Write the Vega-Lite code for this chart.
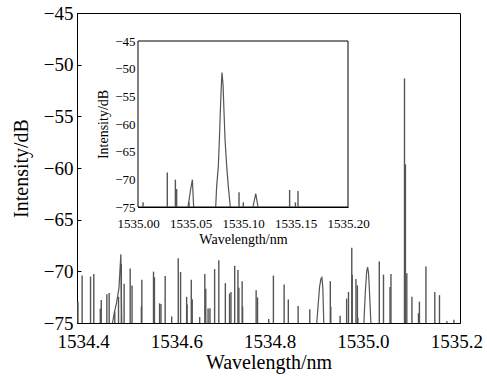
{
  "$schema": "https://vega.github.io/schema/vega-lite/v6.json",
  "width": 383,
  "height": 310,
  "autosize": {"type": "none"},
  "padding": {"left": 77, "top": 13, "right": 27, "bottom": 53},
  "background": "white",
  "config": {
    "font": "Liberation Serif",
    "view": {"stroke": "black", "strokeWidth": 1},
    "axis": {"grid": false, "labelFont": "Liberation Serif", "titleFont": "Liberation Serif", "domainColor": "black", "labelColor": "black", "titleColor": "black", "titleFontWeight": "normal", "tickColor": "black", "labelFlush": false, "labelOverlap": false},
    "axisQuantitative": {"labelFont": "Liberation Serif"}
  },
  "datasets": {
    "main_spikes": [
      {"w": 1534.389, "p": -72.94}, {"w": 1534.398, "p": -70.41}, {"w": 1534.416, "p": -70.51}, {"w": 1534.423, "p": -70.25},
      {"w": 1534.437, "p": -73.6}, {"w": 1534.439, "p": -72.78}, {"w": 1534.451, "p": -72.22}, {"w": 1534.456, "p": -72.09},
      {"w": 1534.468, "p": -73.89}, {"w": 1534.476, "p": -72.47}, {"w": 1534.482, "p": -69.3}, {"w": 1534.488, "p": -71.2},
      {"w": 1534.501, "p": -69.72}, {"w": 1534.505, "p": -71.36}, {"w": 1534.525, "p": -73.4}, {"w": 1534.526, "p": -70.82},
      {"w": 1534.551, "p": -70.03}, {"w": 1534.553, "p": -70.57}, {"w": 1534.564, "p": -73.1}, {"w": 1534.567, "p": -73.16},
      {"w": 1534.576, "p": -70.44}, {"w": 1534.59, "p": -74.37}, {"w": 1534.604, "p": -68.73}, {"w": 1534.609, "p": -70.06},
      {"w": 1534.622, "p": -72.47}, {"w": 1534.623, "p": -73.2}, {"w": 1534.632, "p": -70.82}, {"w": 1534.634, "p": -72.7},
      {"w": 1534.65, "p": -74.43}, {"w": 1534.661, "p": -70.25}, {"w": 1534.663, "p": -71.68}, {"w": 1534.668, "p": -73.6},
      {"w": 1534.672, "p": -73.58}, {"w": 1534.682, "p": -69.78}, {"w": 1534.691, "p": -68.92}, {"w": 1534.705, "p": -71.14},
      {"w": 1534.714, "p": -72.15}, {"w": 1534.717, "p": -71.99}, {"w": 1534.725, "p": -69.46}, {"w": 1534.732, "p": -69.87},
      {"w": 1534.734, "p": -71.58}, {"w": 1534.741, "p": -70.95}, {"w": 1534.742, "p": -73.4}, {"w": 1534.771, "p": -71.84},
      {"w": 1534.774, "p": -72.53}, {"w": 1534.798, "p": -74.62}, {"w": 1534.808, "p": -70.41}, {"w": 1534.831, "p": -71.27},
      {"w": 1534.84, "p": -72.72}, {"w": 1534.861, "p": -73.35}, {"w": 1534.886, "p": -73.67}, {"w": 1534.93, "p": -70.95},
      {"w": 1534.931, "p": -73.42}, {"w": 1534.951, "p": -74.3}, {"w": 1534.965, "p": -72.63}, {"w": 1534.969, "p": -71.99},
      {"w": 1534.976, "p": -67.72}, {"w": 1534.977, "p": -70.32}, {"w": 1534.985, "p": -70.73}, {"w": 1534.988, "p": -71.36},
      {"w": 1534.989, "p": -74.5}, {"w": 1535.035, "p": -69.05}, {"w": 1535.044, "p": -70.32}, {"w": 1535.058, "p": -71.52},
      {"w": 1535.06, "p": -70.25}, {"w": 1535.089, "p": -51.33}, {"w": 1535.091, "p": -59.65}, {"w": 1535.094, "p": -70.19},
      {"w": 1535.105, "p": -72.47}, {"w": 1535.119, "p": -74.05}, {"w": 1535.121, "p": -72.94}, {"w": 1535.135, "p": -69.53},
      {"w": 1535.154, "p": -71.99}, {"w": 1535.164, "p": -72.31}, {"w": 1535.18, "p": -74.84}, {"w": 1535.195, "p": -74.68}
    ],
    "main_humps": [
      {"g": "a", "w": 1534.463, "p": -75}, {"g": "a", "w": 1534.467, "p": -74}, {"g": "a", "w": 1534.472, "p": -73},
      {"g": "a", "w": 1534.477, "p": -71.6}, {"g": "a", "w": 1534.481, "p": -68.35}, {"g": "a", "w": 1534.483, "p": -75},
      {"g": "b", "w": 1534.901, "p": -75}, {"g": "b", "w": 1534.904, "p": -73.2}, {"g": "b", "w": 1534.907, "p": -71.5},
      {"g": "b", "w": 1534.91, "p": -70.7}, {"g": "b", "w": 1534.912, "p": -70.6}, {"g": "b", "w": 1534.914, "p": -71.6},
      {"g": "b", "w": 1534.916, "p": -75},
      {"g": "c", "w": 1535.002, "p": -75}, {"g": "c", "w": 1535.005, "p": -72}, {"g": "c", "w": 1535.008, "p": -70},
      {"g": "c", "w": 1535.01, "p": -69.6}, {"g": "c", "w": 1535.012, "p": -70.2}, {"g": "c", "w": 1535.014, "p": -72},
      {"g": "c", "w": 1535.017, "p": -75}
    ],
    "inset_box": [{"w": 1535.0, "w2": 1535.2, "p": -75, "p2": -45}],
    "inset_spikes": [
      {"w": 1535.0048, "p": -74.16}, {"w": 1535.0279, "p": -68.75}, {"w": 1535.0356, "p": -70.07}, {"w": 1535.0368, "p": -71.75},
      {"w": 1535.0486, "p": -74.16}, {"w": 1535.0962, "p": -72.35}, {"w": 1535.1003, "p": -74.16}, {"w": 1535.1444, "p": -71.93},
      {"w": 1535.1499, "p": -74.16}, {"w": 1535.1524, "p": -72.11}
    ],
    "inset_peaks": [
      {"g": "a", "w": 1535.0476, "p": -75}, {"g": "a", "w": 1535.0502, "p": -71.75}, {"g": "a", "w": 1535.0518, "p": -70.07}, {"g": "a", "w": 1535.053, "p": -75},
      {"g": "b", "w": 1535.074, "p": -75}, {"g": "b", "w": 1535.0749, "p": -71.27}, {"g": "b", "w": 1535.0765, "p": -67.66},
      {"g": "b", "w": 1535.0775, "p": -62.85}, {"g": "b", "w": 1535.0784, "p": -57.74}, {"g": "b", "w": 1535.0794, "p": -52.93},
      {"g": "b", "w": 1535.08, "p": -50.71}, {"g": "b", "w": 1535.081, "p": -52.93}, {"g": "b", "w": 1535.0819, "p": -57.74},
      {"g": "b", "w": 1535.0829, "p": -62.85}, {"g": "b", "w": 1535.0845, "p": -67.66}, {"g": "b", "w": 1535.086, "p": -71.27},
      {"g": "b", "w": 1535.0879, "p": -75},
      {"g": "c", "w": 1535.1095, "p": -75}, {"g": "c", "w": 1535.1121, "p": -72.6}, {"g": "c", "w": 1535.1143, "p": -75}
    ]
  },
  "layer": [
    {
      "encoding": {
        "x": {"field": "w", "type": "quantitative", "scale": {"domain": [1534.387, 1535.208], "nice": false, "zero": false},
              "axis": {"orient": "bottom", "values": [1534.4, 1534.6, 1534.8, 1535.0, 1535.2], "format": ".1f", "title": "Wavelength/nm",
                       "labelFont": "Liberation Serif", "labelFontSize": 19, "titleFontSize": 20, "ticks": false, "labelPadding": 9, "titlePadding": 1}},
        "y": {"field": "p", "type": "quantitative", "scale": {"domain": [-75, -45], "nice": false, "zero": false},
              "axis": {"orient": "left", "values": [-75, -70, -65, -60, -55, -50, -45], "title": "Intensity/dB",
                       "labelFont": "Liberation Serif", "labelFontSize": 19, "titleFontSize": 20, "tickSize": -4, "labelPadding": 8, "titlePadding": 12}}
      },
      "layer": [
        {"data": {"name": "main_spikes"}, "mark": {"type": "rule", "color": "#555555", "strokeWidth": 1.4}, "encoding": {"y2": {"datum": -75}}},
        {"data": {"name": "main_humps"}, "mark": {"type": "line", "color": "#555555", "strokeWidth": 1.2}, "encoding": {"detail": {"field": "g"}}}
      ]
    },
    {
      "encoding": {
        "x": {"field": "w", "type": "quantitative", "scale": {"domain": [1535.0, 1535.2], "range": [61, 271], "nice": false, "zero": false},
              "axis": {"orient": "bottom", "offset": -116, "values": [1535.0, 1535.05, 1535.1, 1535.15, 1535.2], "format": ".2f", "title": "Wavelength/nm",
                       "labelFont": "Liberation Serif", "labelFontSize": 13, "titleFontSize": 14, "ticks": false, "labelPadding": 10, "titlePadding": 2}},
        "y": {"field": "p", "type": "quantitative", "scale": {"domain": [-75, -45], "range": [194, 28], "nice": false, "zero": false},
              "axis": {"orient": "left", "offset": -61, "values": [-75, -70, -65, -60, -55, -50, -45], "title": "Intensity/dB",
                       "labelFont": "Liberation Serif", "labelFontSize": 13, "titleFontSize": 14, "tickSize": -3, "labelPadding": 6, "titlePadding": 4}}
      },
      "layer": [
        {"data": {"name": "inset_box"}, "mark": {"type": "rect", "fill": "white", "stroke": "black", "strokeWidth": 1},
         "encoding": {"x2": {"field": "w2"}, "y2": {"field": "p2"}}},
        {"data": {"name": "inset_spikes"}, "mark": {"type": "rule", "color": "#555555", "strokeWidth": 1.4}, "encoding": {"y2": {"datum": -75}}},
        {"data": {"name": "inset_peaks"}, "mark": {"type": "line", "color": "#555555", "strokeWidth": 1.2}, "encoding": {"detail": {"field": "g"}}}
      ]
    }
  ],
  "resolve": {"scale": {"x": "independent", "y": "independent"}, "axis": {"x": "independent", "y": "independent"}}
}
